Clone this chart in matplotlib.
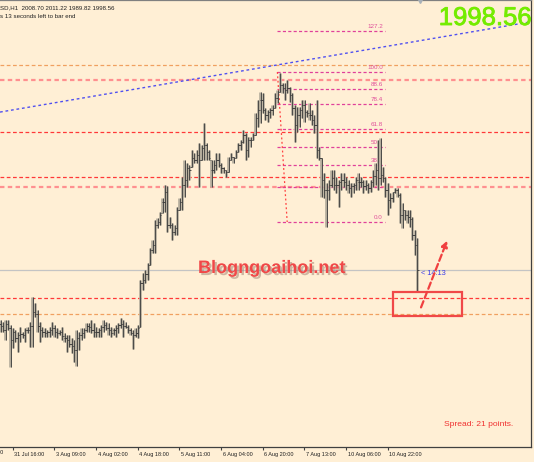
import numpy as np
import matplotlib
matplotlib.use('Agg')
import matplotlib.pyplot as plt
import matplotlib.patheffects as pe
import matplotlib.transforms as mtransforms
from matplotlib.patches import Rectangle, FancyArrowPatch

# ---------------- data (XAUUSD H1) ----------------
highs = [1978.6, 1977.8, 1978.6, 1978.6, 1976.6, 1975.4, 1974.6, 1973.8, 1975.8, 1973.8,
         1975.4, 1975.8, 1977.8, 1987.8, 1985.4, 1982.6, 1977.8, 1975.8, 1975.4, 1974.6,
         1975.8, 1977.8, 1976.6, 1975.4, 1974.6, 1975.8, 1973.4, 1972.6, 1972.6, 1971.4,
         1970.6, 1974.6, 1973.8, 1975.4, 1975.4, 1977.4, 1977.4, 1978.6, 1977.4, 1975.8,
         1975.4, 1976.6, 1978.6, 1977.8, 1977.4, 1975.8, 1975.4, 1976.6, 1977.4, 1979.4,
         1978.6, 1977.8, 1976.6, 1975.4, 1974.6, 1975.4, 1976.6, 1994.6, 1997.4, 1998.6,
         2001.4, 2007.4, 2010.6, 2018.6, 2019.4, 2021.8, 2027.4, 2032.6, 2032.2, 2019.8,
         2017.4, 2016.6, 2023.8, 2027.4, 2035.8, 2042.6, 2041.4, 2040.6, 2046.6, 2045.4,
         2046.6, 2049.4, 2048.6, 2057.4, 2049.4, 2046.6, 2042.6, 2042.6, 2045.4, 2045.4,
         2041.4, 2039.8, 2038.6, 2043.8, 2045.4, 2043.8, 2046.6, 2049.4, 2050.6, 2054.6,
         2053.4, 2051.8, 2051.8, 2053.4, 2061.4, 2066.6, 2069.8, 2069.4, 2063.4, 2062.6,
         2063.4, 2064.6, 2069.4, 2070.6, 2077.4, 2073.4, 2073.4, 2074.6, 2071.8, 2069.4,
         2064.6, 2063.8, 2063.8, 2066.6, 2066.6, 2062.6, 2065.4, 2062.6, 2060.6, 2066.6,
         2047.8, 2043.4, 2037.4, 2033.4, 2034.6, 2038.6, 2038.6, 2035.8, 2034.6, 2037.4,
         2037.4, 2035.8, 2034.6, 2033.4, 2033.4, 2035.8, 2037.4, 2035.8, 2034.6, 2034.6,
         2033.4, 2034.6, 2038.6, 2041.4, 2050.6, 2051.4, 2039.8, 2035.8, 2033.4, 2029.4,
         2029.8, 2031.4, 2031.4, 2029.4, 2025.4, 2022.6, 2022.6, 2022.6, 2019.8, 2014.6,
         2011.22]
lows = [1973.8, 1973.8, 1970.6, 1974.6, 1959.8, 1967.4, 1969.8, 1965.8, 1969.8, 1971.4,
        1969.8, 1973.4, 1967.8, 1967.8, 1979.8, 1973.8, 1969.8, 1971.8, 1971.8, 1971.8,
        1971.8, 1972.6, 1971.8, 1971.4, 1972.6, 1970.6, 1969.8, 1965.8, 1967.8, 1965.4,
        1961.8, 1960.2, 1966.6, 1970.6, 1971.4, 1973.8, 1973.8, 1973.4, 1971.8, 1971.8,
        1971.8, 1971.8, 1973.8, 1974.6, 1972.6, 1971.8, 1972.6, 1971.8, 1973.4, 1975.4,
        1971.8, 1975.4, 1973.4, 1972.6, 1967.0, 1971.8, 1971.4, 1975.8, 1990.6, 1993.4,
        1994.6, 2000.6, 2005.4, 2005.4, 2015.4, 2016.6, 2021.4, 2021.8, 2013.8, 2015.4,
        2010.6, 2012.6, 2012.6, 2022.6, 2022.6, 2027.8, 2031.8, 2034.6, 2039.8, 2041.4,
        2041.4, 2031.8, 2042.6, 2042.6, 2042.6, 2042.6, 2031.8, 2037.4, 2038.6, 2039.8,
        2037.4, 2037.4, 2035.8, 2037.8, 2042.6, 2041.4, 2043.4, 2045.8, 2046.6, 2049.4,
        2042.6, 2043.8, 2047.8, 2050.6, 2052.6, 2055.8, 2057.4, 2061.4, 2058.6, 2057.8,
        2059.4, 2060.6, 2063.4, 2065.4, 2069.8, 2069.4, 2066.6, 2069.4, 2065.8, 2060.6,
        2049.8, 2053.8, 2055.8, 2059.4, 2057.8, 2059.8, 2058.6, 2056.6, 2053.4, 2043.4,
        2042.6, 2027.8, 2027.4, 2015.8, 2026.6, 2031.8, 2030.6, 2029.4, 2023.8, 2030.6,
        2031.8, 2030.6, 2029.4, 2027.8, 2029.4, 2030.6, 2030.6, 2031.8, 2029.4, 2030.6,
        2029.4, 2029.8, 2031.8, 2032.6, 2030.6, 2032.6, 2033.8, 2027.8, 2020.6, 2023.4,
        2025.8, 2029.4, 2027.8, 2017.4, 2015.4, 2018.6, 2017.4, 2015.8, 2010.6, 2004.6,
        1989.82]
closes = [1976.2, 1974.6, 1977.0, 1975.4, 1970.6, 1973.8, 1971.4, 1972.6, 1973.0, 1972.6,
          1974.6, 1974.6, 1976.2, 1981.8, 1981.0, 1976.2, 1974.6, 1973.8, 1973.4, 1973.8,
          1974.6, 1975.4, 1973.8, 1973.4, 1973.8, 1972.2, 1971.4, 1970.6, 1969.0, 1968.2,
          1966.6, 1971.4, 1972.6, 1973.4, 1974.6, 1976.2, 1975.8, 1974.6, 1973.8, 1973.8,
          1974.6, 1975.8, 1976.6, 1975.4, 1974.6, 1973.4, 1974.6, 1975.4, 1976.6, 1977.0,
          1976.2, 1975.8, 1974.6, 1973.4, 1972.6, 1973.4, 1975.4, 1993.4, 1994.6, 1997.0,
          2000.6, 2006.6, 2008.6, 2016.6, 2017.8, 2020.6, 2025.8, 2029.8, 2016.6, 2016.6,
          2013.8, 2015.4, 2022.6, 2025.8, 2032.6, 2034.6, 2039.4, 2038.6, 2043.4, 2042.6,
          2044.6, 2042.6, 2047.4, 2048.6, 2045.8, 2043.4, 2038.6, 2040.6, 2042.6, 2040.6,
          2039.4, 2038.6, 2037.8, 2042.6, 2043.8, 2043.4, 2045.8, 2048.6, 2049.8, 2052.6,
          2046.6, 2050.6, 2050.6, 2052.6, 2059.4, 2062.6, 2066.6, 2062.6, 2060.6, 2061.8,
          2062.6, 2063.4, 2067.4, 2069.8, 2072.6, 2071.4, 2070.6, 2071.4, 2068.6, 2063.4,
          2056.6, 2060.6, 2062.6, 2064.6, 2061.8, 2061.4, 2060.6, 2058.6, 2056.6, 2046.6,
          2043.4, 2034.6, 2030.6, 2030.6, 2032.6, 2035.4, 2032.6, 2032.6, 2033.8, 2034.6,
          2033.8, 2032.6, 2031.4, 2032.2, 2032.6, 2034.6, 2033.8, 2033.8, 2032.2, 2032.6,
          2031.4, 2033.8, 2036.2, 2038.6, 2035.4, 2036.6, 2035.4, 2030.6, 2026.6, 2027.4,
          2029.8, 2030.6, 2028.6, 2020.6, 2022.6, 2020.6, 2019.8, 2019.0, 2012.6, 2008.7,
          1998.56]
first_open = 1977.0
last_open = 2008.70

level_red = [2053.8, 2035.8, 1987.4]
level_pink = [2074.6, 2031.8]
level_orange = [2080.6, 1981.0]
bid_price = 1998.56

fib_high = 2077.8
fib_low = 2017.8
fib_ratios = [0.0, 23.6, 38.2, 50.0, 61.8, 78.4, 88.6, 100.0, 127.2]
fib_start, fib_end, fib_diag_end = 113, 157, 117

trend_a = (0, 2061.8)
trend_b = (150, 2086.8)

tick_pos = [-12, 5, 22, 39, 56, 73, 90, 107, 124, 141, 158]
tick_labels = ['30 Jul 23:00', '31 Jul 16:00', '3 Aug 09:00', '4 Aug 02:00', '4 Aug 18:00',
               '5 Aug 11:00', '6 Aug 04:00', '6 Aug 20:00', '7 Aug 13:00',
               '10 Aug 06:00', '10 Aug 22:00']

box_x0, box_x1, box_p0, box_p1 = 160.2, 188.4, 1980.2, 1989.8
arrow_from = (171.2, 1982.6)
arrow_to = (182.7, 2011.4)

# ---------------- figure ----------------
BG = '#FFEFD5'
fig = plt.figure(figsize=(5.34, 4.62), dpi=100, facecolor=BG)
ax = fig.add_axes([0, 15 / 462, 531 / 534, 447 / 462], facecolor=BG)
ax.set_xlim(-0.204, 216.5)
ax.set_ylim(1927.8, 2106.6)

n = len(highs)
xs = np.arange(n)
opens = [first_open] + [min(max(closes[i - 1], lows[i]), highs[i]) for i in range(1, n)]
opens[-1] = last_open

# level lines
for lv in level_orange:
    ax.axhline(lv, color='#F0A060', lw=0.9, ls=(0, (3, 2)), zorder=1)
for lv in level_pink:
    ax.axhline(lv, color='#FF9090', lw=1.6, ls=(0, (2, 1.5)), zorder=1)
for lv in level_red:
    ax.axhline(lv, color='#FF3838', lw=0.9, ls=(0, (3, 2)), zorder=1)
ax.axhline(bid_price, color='#C4C4C4', lw=0.9, zorder=1)

# trend line
ax.axline(trend_a, trend_b, color='#5050F0', lw=1.0, ls=(0, (2, 2)), zorder=1)

# fibonacci
for r in fib_ratios:
    p = fib_low + (fib_high - fib_low) * r / 100.0
    ax.hlines(p, fib_start, fib_end, color='#E0409A', lw=0.9, ls=(0, (2.5, 1.8)), zorder=2)
    ax.text(fib_end - 1.0, p + 0.8, f'{r:.1f}', color='#E0509A', fontsize=4.5,
            family='Liberation Sans', ha='right', va='bottom', zorder=2)
ax.plot([fib_start, fib_diag_end], [fib_high, fib_low], color='#FF4040', lw=0.9,
        ls=(0, (1.5, 2)), zorder=2)

# bars
ax.vlines(xs, lows, highs, color='#B3AB9B', lw=1.9, zorder=3)
ax.vlines(xs + 0.12, lows, highs, color='#3A3A3A', lw=0.6, zorder=4)
ax.hlines(opens, xs - 0.5, xs + 0.1, color='#3A3A3A', lw=0.6, zorder=4)
ax.hlines(closes, xs + 0.1, xs + 0.6, color='#3A3A3A', lw=0.6, zorder=4)

# box and arrow
ax.add_patch(Rectangle((box_x0, box_p0), box_x1 - box_x0, box_p1 - box_p0, fill=False,
                       ec='#F04848', lw=1.6, zorder=6))
ax.add_patch(FancyArrowPatch(arrow_from, arrow_to, arrowstyle='-|>', mutation_scale=9,
                             color='#F04040', lw=1.6, ls=(0, (3, 1.5)), zorder=6))

# texts
ax.text(171.6, bid_price - 1.2, '< 14:13', color='#3A3AE8', fontsize=5.3,
        family='Liberation Sans', ha='left', va='center', zorder=5)
ax.text(198 / 531, 1 - 273 / 447, 'Blogngoaihoi.net', transform=ax.transAxes,
        color='#F04848', fontsize=13, fontweight='bold', family='Liberation Sans',
        ha='left', va='baseline', zorder=7,
        path_effects=[pe.withSimplePatchShadow(offset=(1.5, -1.5), shadow_rgbFace='#907060',
                                               alpha=0.45)])
ax.text(444 / 531, 1 - 426 / 447, 'Spread: 21 points.', transform=ax.transAxes,
        color='#F03030', fontsize=6.1, family='Liberation Sans', ha='left', va='baseline')

fig.text(532 / 534, 1 - 25 / 462, f'{closes[-1]:.2f}', color='#74EC00', fontsize=18.5,
         family='Liberation Sans', ha='right', va='baseline',
         path_effects=[pe.withStroke(linewidth=0.6, foreground='#74EC00')])
fig.text(0.5 / 534, 1 - 9 / 462,
         f'SD,H1  {opens[-1]:.2f} {highs[-1]:.2f} {lows[-1]:.2f} {closes[-1]:.2f}',
         color='#202020', fontsize=4.4, family='Liberation Sans', ha='left', va='baseline')
fig.text(0.5 / 534, 1 - 18 / 462, 's 13 seconds left to bar end',
         color='#202020', fontsize=4.4, family='Liberation Sans', ha='left', va='baseline')

# shift marker at top
ax.plot([171.2], [1.0], marker='v', ms=4, color='#A8B0B8', transform=ax.get_xaxis_transform(),
        clip_on=False, zorder=8)

# axes styling
ax.set_yticks([])
ax.spines['left'].set_visible(False)
ax.spines['top'].set_color('#808080')
ax.spines['right'].set_color('#404040')
ax.spines['bottom'].set_color('#404040')
for s in ['top', 'right', 'bottom']:
    ax.spines[s].set_linewidth(0.9)

ax.set_xticks(tick_pos[1:], labels=tick_labels[1:])
ax.tick_params(axis='x', direction='out', length=2.5, width=0.8, color='#404040',
               pad=0.8, labelsize=4.0, labelcolor='#202020')
offset = mtransforms.ScaledTranslation(1.2 / 72, 0, fig.dpi_scale_trans)
for lab in ax.get_xticklabels():
    lab.set_ha('left')
    lab.set_family('Liberation Sans')
    lab.set_transform(lab.get_transform() + offset)
ax.text(tick_pos[0], -0.0075, tick_labels[0], transform=ax.get_xaxis_transform() + offset,
        fontsize=4.0, family='Liberation Sans', color='#202020', ha='left', va='top',
        clip_on=False)

fig.savefig('out.png', dpi=100, facecolor=BG)
